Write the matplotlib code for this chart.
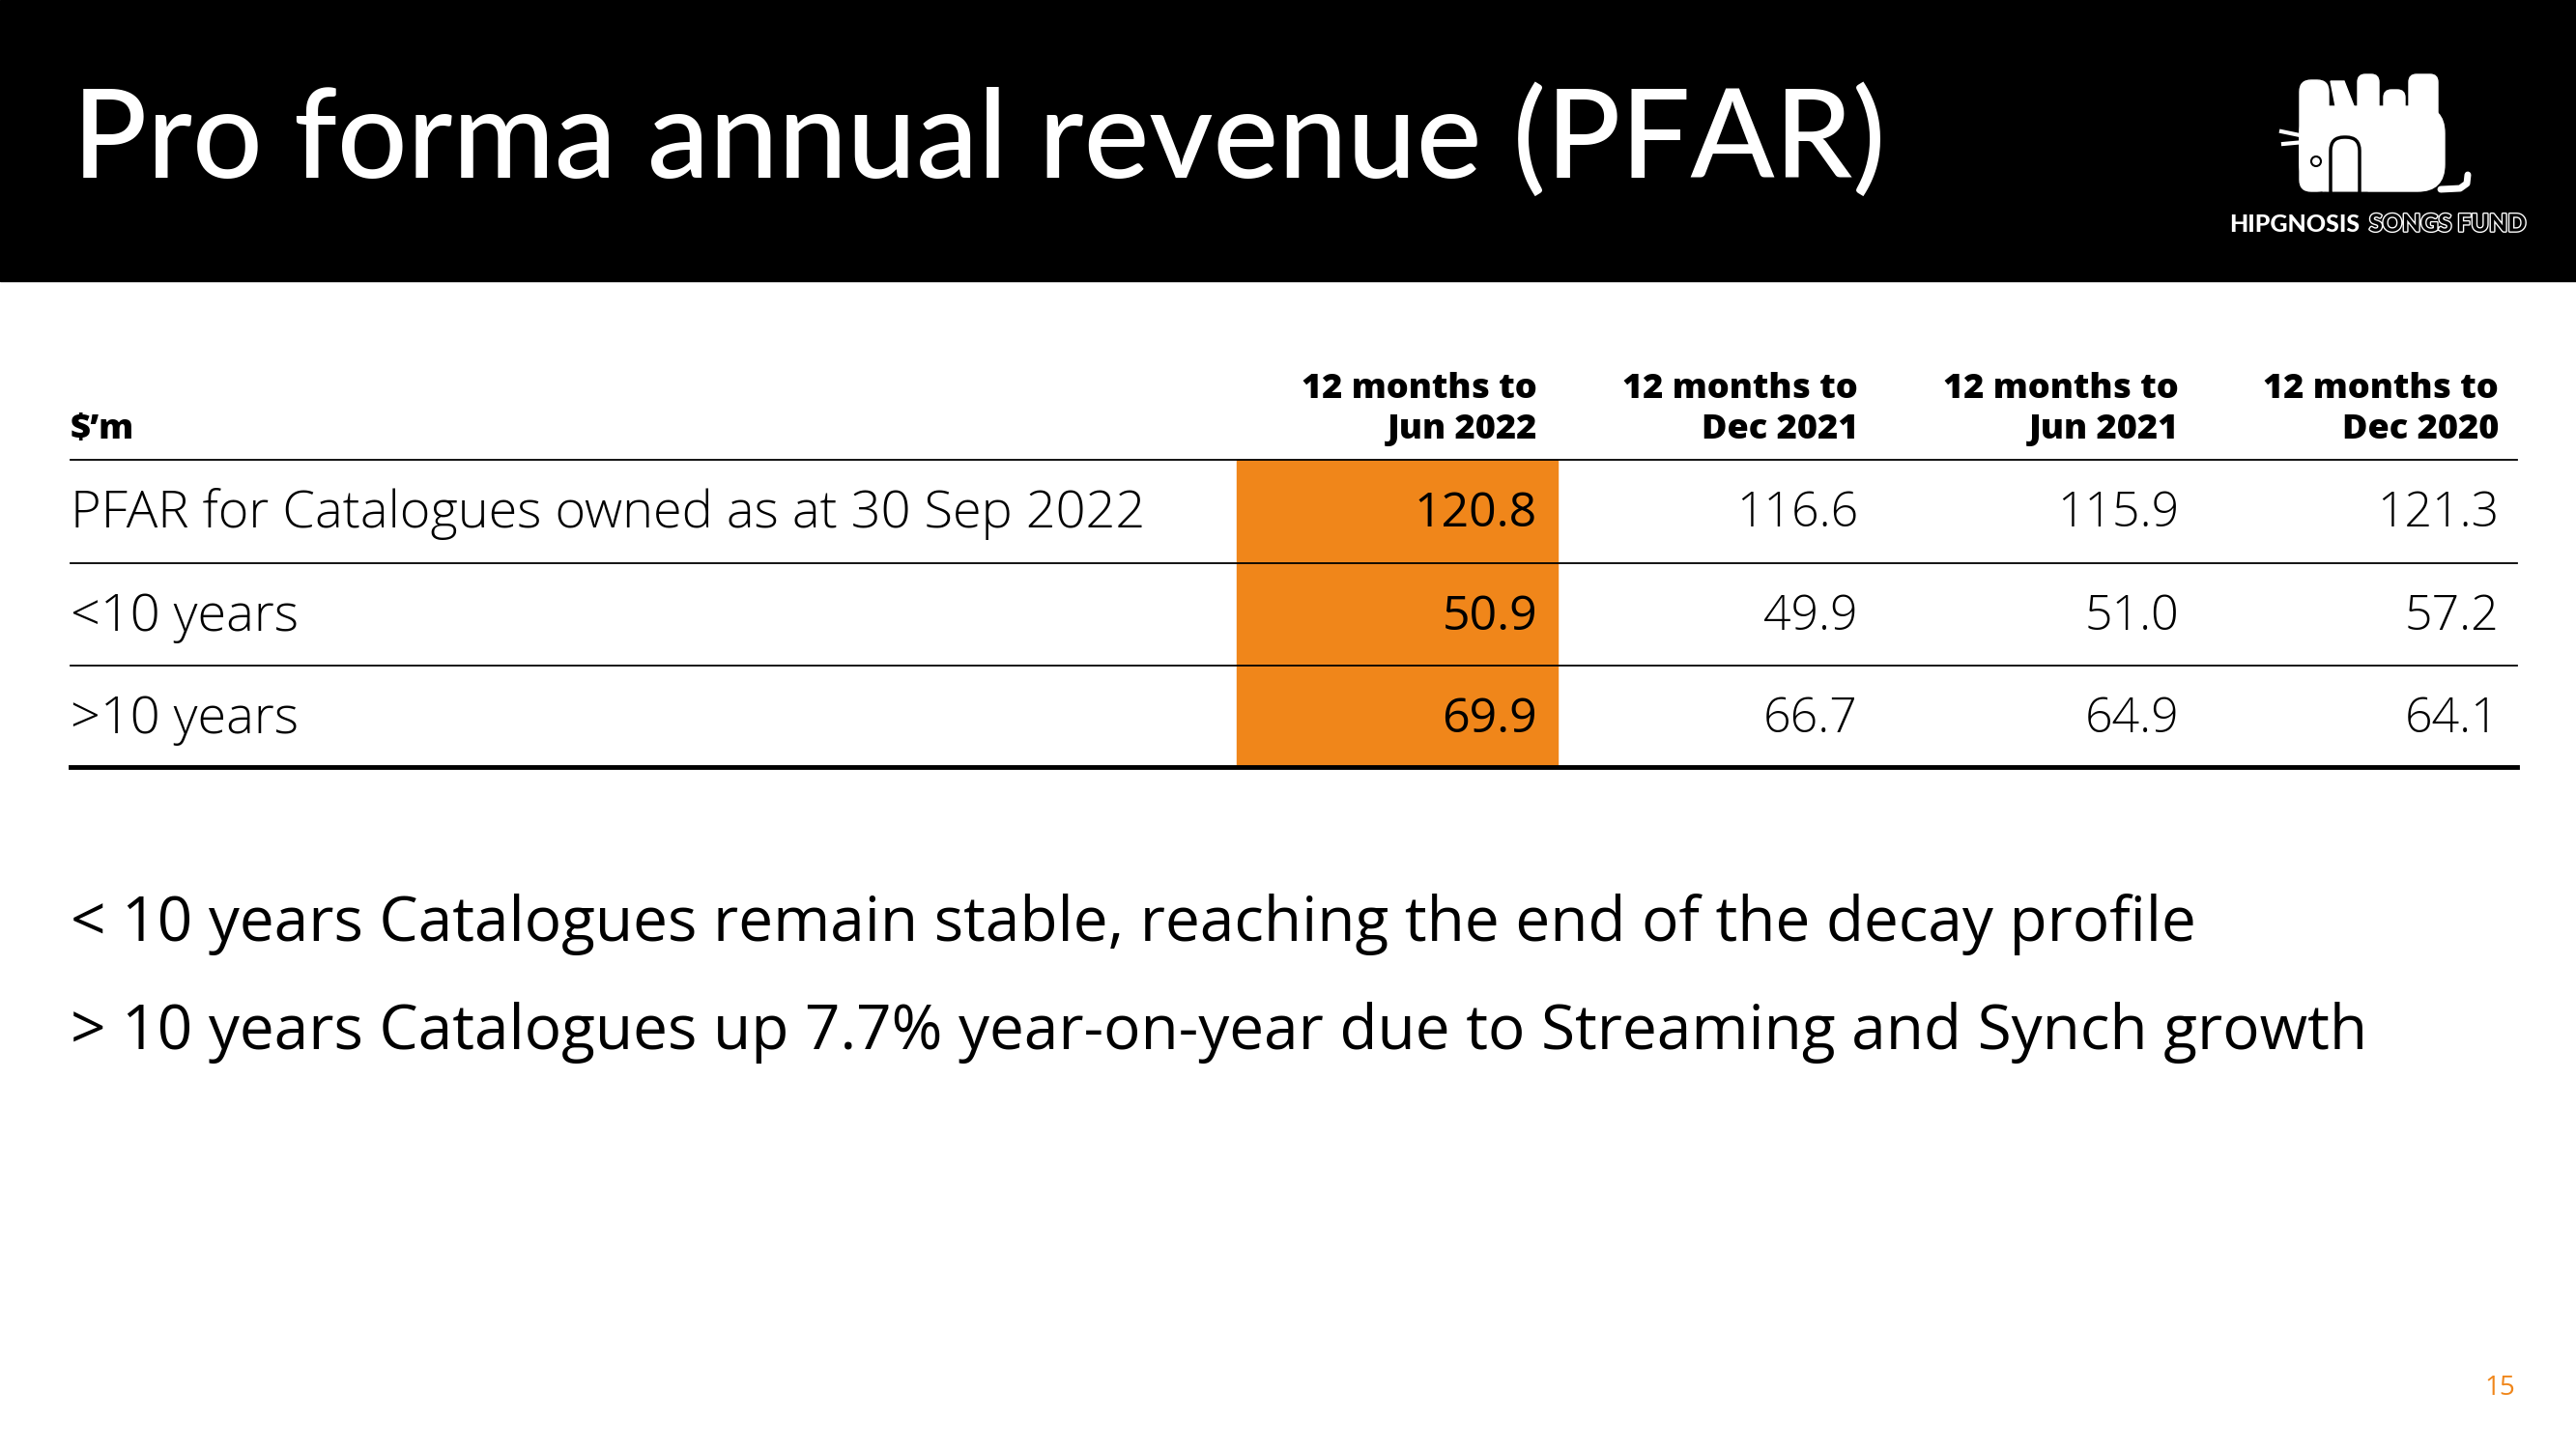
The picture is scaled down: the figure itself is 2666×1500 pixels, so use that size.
import matplotlib.pyplot as plt
from matplotlib.patches import Rectangle, FancyBboxPatch, Circle, Polygon
import matplotlib.patheffects as pe

# table content
col_top = ['12 months to'] * 4
col_bottom = ['Jun 2022', 'Dec 2021', 'Jun 2021', 'Dec 2020']
row_labels = ['PFAR for Catalogues owned as at 30 Sep 2022', '<10 years', '>10 years']
pfar_total = [120.8, 116.6, 115.9, 121.3]
under_10 = [50.9, 49.9, 51.0, 57.2]
over_10 = [69.9, 66.7, 64.9, 64.1]
rows = [pfar_total, under_10, over_10]

title = 'Pro forma annual revenue (PFAR)'
bullets = ['< 10 years Catalogues remain stable, reaching the end of the decay profile',
           '> 10 years Catalogues up 7.7% year-on-year due to Streaming and Synch growth']
unit_label = '$’m'
page_no = '15'

ORANGE = '#F0861A'
TITLE_FONT = 'Lato'
BODY_FONT = 'Open Sans'

W, H = 2666, 1500
fig = plt.figure(figsize=(W / 100, H / 100), dpi=100)
ax = fig.add_axes([0, 0, 1, 1])
ax.set_xlim(0, W)
ax.set_ylim(H, 0)
ax.axis('off')

# black header band + title
ax.add_patch(Rectangle((0, 0), W, 291, color='black', zorder=0))
ax.text(75, 184, title, color='white', fontsize=92, family=TITLE_FONT, fontweight='medium',
        va='baseline', ha='left')

# logo (rough shape of the elephant)
wt = dict(color='white', zorder=2)
ax.add_patch(FancyBboxPatch((2380, 110), 150, 88, boxstyle='round,pad=0,rounding_size=28', **wt))
ax.add_patch(FancyBboxPatch((2380, 83), 30, 115, boxstyle='round,pad=0,rounding_size=12', **wt))
for x0, y0, w0 in [(2440, 77, 22), (2467, 93, 22), (2493, 77, 30)]:
    ax.add_patch(FancyBboxPatch((x0, y0), w0, 60, boxstyle='round,pad=0,rounding_size=8', **wt))
ax.add_patch(Polygon([(2412, 84), (2426, 84), (2442, 125), (2420, 125)], closed=True, **wt))
ax.add_patch(FancyBboxPatch((2412, 142), 30, 70, boxstyle='round,pad=0,rounding_size=14',
                            facecolor='none', edgecolor='black', linewidth=2.5, zorder=3))
ax.add_patch(Rectangle((2405, 199), 45, 15, color='black', zorder=3))
ax.add_patch(Circle((2397, 167), 5, facecolor='white', edgecolor='black', linewidth=1.5, zorder=3))
ax.plot([2526, 2546, 2553, 2554], [196, 195, 190, 181], color='white', lw=5,
        solid_capstyle='round', zorder=2)
ax.plot([2361, 2385], [136, 141], color='white', lw=3, zorder=2)
ax.plot([2363, 2385], [149, 147], color='white', lw=3, zorder=2)
ax.text(2307, 232, 'HIPGNOSIS', color='white', fontsize=18, family=TITLE_FONT, fontweight='black',
        va='center', ha='left')
ax.text(2452, 232, 'SONGS FUND', color='black', fontsize=18, family=TITLE_FONT, fontweight='black',
        va='center', ha='left',
        path_effects=[pe.withStroke(linewidth=2, foreground='white')])

# table geometry
x_left, x_right = 73, 2605
col_right = [1591, 1923, 2255, 2586]
head_y1, head_y2 = 403, 445
row_y = [532, 639, 745]
line_y = [476, 583, 689]
bottom_y = 794

ax.add_patch(Rectangle((1280, line_y[0]), 332, bottom_y - line_y[0], color=ORANGE, zorder=1))

for y in line_y:
    ax.plot([x_left, x_right], [y, y], color='black', lw=1.3, zorder=2)
ax.plot([x_left, x_right], [bottom_y, bottom_y], color='black', lw=3.5, zorder=2)

head_kw = dict(fontsize=26, family=BODY_FONT, fontweight='heavy', va='center')
ax.text(x_left, head_y2, unit_label, ha='left', **head_kw)
for xr, t1, t2 in zip(col_right, col_top, col_bottom):
    ax.text(xr, head_y1, t1, ha='right', **head_kw)
    ax.text(xr, head_y2, t2, ha='right', **head_kw)

for y, label, vals in zip(row_y, row_labels, rows):
    ax.text(x_left, y, label, fontsize=39, family=BODY_FONT, fontweight='light',
            va='center', ha='left')
    for i, (xr, v) in enumerate(zip(col_right, vals)):
        ax.text(xr, y, f'{v:.1f}', fontsize=36, family=BODY_FONT,
                fontweight='regular' if i == 0 else 'light', va='center', ha='right', zorder=3)

# commentary
for y, b in zip([957, 1069], bullets):
    ax.text(x_left, y, b, fontsize=46, family=BODY_FONT, fontweight='regular',
            va='center', ha='left')

ax.text(2603, 1437, page_no, color=ORANGE, fontsize=20, family=BODY_FONT, fontweight='regular',
        va='center', ha='right')

fig.savefig('out.png', dpi=100)
